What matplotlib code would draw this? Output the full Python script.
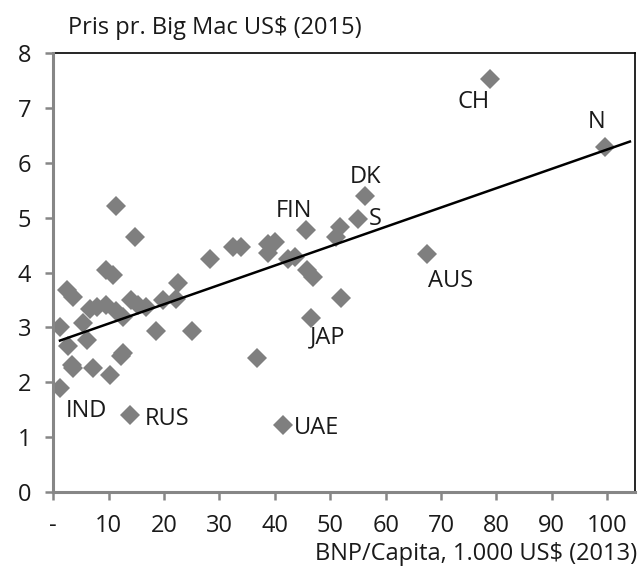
import numpy as np
import matplotlib
matplotlib.use("Agg")
import matplotlib.pyplot as plt
from matplotlib.ticker import FuncFormatter

plt.rcParams['font.family'] = ['Open Sans', 'DejaVu Sans']

# BNP per capita (1.000 US$, 2013) and Big Mac price (US$, 2015)
gdp = [1.2, 1.2, 2.5, 3.6, 2.7, 3.3, 3.6, 5.4, 6.0, 6.6, 7.2, 7.8, 9.5, 9.6,
       10.2, 10.7, 11.3, 11.4, 12.3, 12.6, 12.6, 13.8, 14.1, 14.7, 15.3, 16.8,
       18.6, 19.8, 22.2, 22.5, 25.1, 28.2, 32.4, 33.8, 36.7, 38.8, 38.8, 40.0,
       41.5, 42.4, 43.6, 45.7, 45.8, 46.6, 46.9, 51.1, 51.7, 52.0, 55.0, 56.3,
       67.4, 78.9, 99.6]
price = [3.01, 1.90, 3.68, 3.55, 2.66, 2.31, 2.25, 3.07, 2.76, 3.34, 2.25, 3.37,
         4.04, 3.40, 2.13, 3.95, 5.21, 3.30, 2.48, 2.53, 3.19, 1.40, 3.49, 4.64,
         3.40, 3.37, 2.93, 3.49, 3.52, 3.81, 2.93, 4.24, 4.47, 4.47, 2.44, 4.53,
         4.36, 4.56, 1.21, 4.24, 4.28, 4.77, 4.04, 3.17, 3.92, 4.65, 4.83, 3.54,
         4.98, 5.39, 4.33, 7.54, 6.30]

# labelled countries
labels = ["IND", "RUS", "UAE", "JAP", "CH", "N", "DK", "S", "FIN", "AUS"]
label_x = [1.2, 13.8, 41.5, 46.6, 78.9, 99.6, 56.3, 55.0, 45.7, 67.4]
label_y = [1.90, 1.40, 1.21, 3.17, 7.54, 6.30, 5.39, 4.98, 4.77, 4.33]
offsets = [(19, -17), (11, -3), (8, -2), (12, -14), (-12, -17), (-6, 18),
           (0, 14), (8, 0), (-9, 14), (17, -19)]
aligns = ["center", "left", "left", "center", "center", "center", "center",
          "left", "center", "center"]

fs = 17

fig = plt.figure(figsize=(6.4, 5.75), dpi=100)
ax = fig.add_axes([0.0833, 0.145, 0.9087, 0.762])

ax.plot(gdp, price, 'D', color='#7f7f7f', markersize=10, markeredgewidth=0,
        zorder=2)

# linear trend line
k, m = np.polyfit(gdp, price, 1)
xs = np.array([min(gdp), max(gdp) + 4.5])
ax.plot(xs, k * xs + m, color='black', lw=1.8, zorder=3)

for lab, x, y, off, ha in zip(labels, label_x, label_y, offsets, aligns):
    ax.annotate(lab, (x, y), xytext=off, textcoords='offset points',
                ha=ha, va='center', fontsize=fs, color='#1a1a1a')

ax.set_xlim(0, 105)
ax.set_ylim(0, 8)
ax.set_xticks(range(0, 101, 10))
ax.set_yticks(range(0, 9))
ax.xaxis.set_major_formatter(FuncFormatter(lambda v, p: '-' if v == 0 else '%d' % v))

for s in ['left', 'bottom']:
    ax.spines[s].set_color('#868686')
    ax.spines[s].set_linewidth(2.2)
for s in ['top', 'right']:
    ax.spines[s].set_color('black')
    ax.spines[s].set_linewidth(1.2)
ax.spines['left'].set_zorder(4)
ax.spines['bottom'].set_zorder(4)

ax.tick_params(axis='both', colors='#868686', width=1.8, length=6,
               labelcolor='#1a1a1a', labelsize=fs)
ax.tick_params(axis='y', pad=10)
ax.tick_params(axis='x', pad=10)

fig.text(68 / 640, 1 - 28 / 575, 'Pris pr. Big Mac US$ (2015)', fontsize=fs,
         va='center', ha='left', color='#1a1a1a')
fig.text(637 / 640, 1 - 554 / 575, 'BNP/Capita, 1.000 US$ (2013)', fontsize=fs,
         va='center', ha='right', color='#1a1a1a')

fig.savefig('out.png', dpi=100)
